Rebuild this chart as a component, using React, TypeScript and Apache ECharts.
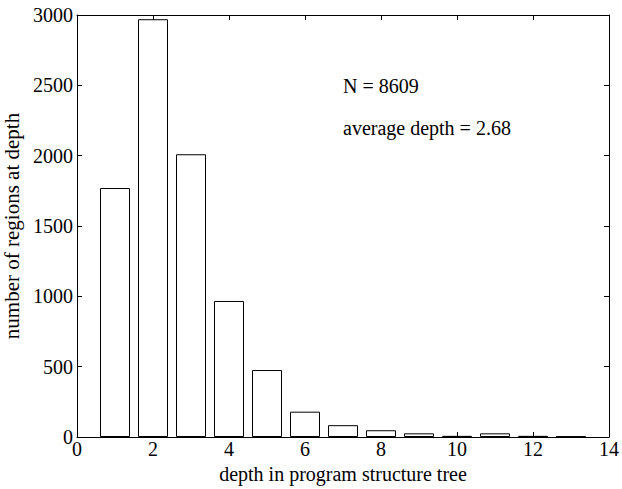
import React, { useEffect, useRef } from "react";
import * as echarts from "echarts";

const depths = [1, 2, 3, 4, 5, 6, 7, 8, 9, 10, 11, 12, 13];
const counts = [1770, 2970, 2010, 967, 476, 180, 84, 48, 26, 8, 26, 8, 5];
const xTicks = [0, 2, 4, 6, 8, 10, 12, 14];
const yTicks = [0, 500, 1000, 1500, 2000, 2500, 3000];
const annotations = ["N = 8609", "average depth = 2.68"];

export default function App() {
  const ref = useRef<HTMLDivElement>(null);
  useEffect(() => {
    if (!ref.current) return;
    const chart = echarts.init(ref.current, null, { renderer: "svg" });
    const font = "Liberation Serif";
    const lineStyle = { color: "#000", width: 1 };
    const baseX = {
      type: "value" as const,
      min: xTicks[0],
      max: xTicks[xTicks.length - 1],
      interval: 2,
      axisLine: { show: true, onZero: false, lineStyle },
      axisTick: { show: true, inside: true, length: 5, lineStyle },
      splitLine: { show: false },
    };
    const baseY = {
      type: "value" as const,
      min: yTicks[0],
      max: yTicks[yTicks.length - 1],
      interval: 500,
      axisLine: { show: true, onZero: false, lineStyle },
      axisTick: { show: true, inside: true, length: 5, lineStyle },
      splitLine: { show: false },
    };
    chart.setOption({
      animation: false,
      backgroundColor: "#fff",
      grid: { left: 77, right: 13, top: 15, bottom: 52, containLabel: false, outerBoundsMode: "none" },
      textStyle: { fontFamily: font },
      xAxis: [
        {
          ...baseX,
          position: "bottom",
          name: "depth in program structure tree",
          nameLocation: "middle",
          nameGap: 26,
          nameTextStyle: { fontFamily: font, fontSize: 20, color: "#000" },
          axisLabel: { fontFamily: font, fontSize: 20, color: "#000", margin: 2, formatter: (v: number) => String(v) },
        },
        { ...baseX, position: "top", axisLabel: { show: false } },
      ],
      yAxis: [
        {
          ...baseY,
          position: "left",
          name: "number of regions at depth",
          nameLocation: "middle",
          nameGap: 49,
          nameTextStyle: { fontFamily: font, fontSize: 21, color: "#000" },
          axisLabel: { fontFamily: font, fontSize: 20, color: "#000", margin: 4, formatter: (v: number) => String(v) },
        },
        { ...baseY, position: "right", axisLabel: { show: false } },
      ],
      series: [
        {
          type: "bar",
          xAxisIndex: 0,
          yAxisIndex: 0,
          barWidth: 30,
          data: depths.map((d, i) => [d, counts[i]]),
          itemStyle: { color: "#fff", borderColor: "#000", borderWidth: 1 },
          silent: true,
        },
      ],
      graphic: [
        {
          type: "text",
          left: 343,
          top: 76,
          style: { text: annotations[0], font: `20px "${font}"`, fill: "#000" },
        },
        {
          type: "text",
          left: 343,
          top: 118,
          style: { text: annotations[1], font: `20px "${font}"`, fill: "#000" },
        },
      ],
    });
    return () => chart.dispose();
  }, []);
  return <div ref={ref} style={{ width: 622, height: 489, position: "absolute", left: 0, top: 0 }} />;
}
